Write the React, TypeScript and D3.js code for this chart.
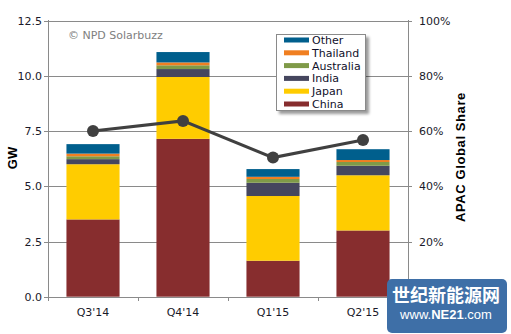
import React from "react";
import * as d3 from "d3";

const categories = ["Q3'14", "Q4'14", "Q1'15", "Q2'15"];
const seriesNames = ["China", "Japan", "India", "Australia", "Thailand", "Other"];
const china = [3.5, 7.15, 1.63, 3.0];
const japan = [2.5, 2.8, 2.93, 2.5];
const india = [0.23, 0.36, 0.6, 0.43];
const australia = [0.13, 0.17, 0.17, 0.17];
const thailand = [0.12, 0.13, 0.1, 0.09];
const other = [0.43, 0.47, 0.35, 0.49];
const apacShare = [60, 63.7, 50.4, 56.8];
const leftTicks = [0, 2.5, 5, 7.5, 10, 12.5];
const rightTicks = [20, 40, 60, 80, 100];
const colors = ["#872D2E", "#FFCC00", "#45465E", "#7F9A48", "#F07F21", "#005F8D"];

const W = 511;
const H = 334;
const FONT = "'DejaVu Sans', Verdana, sans-serif";

export default function App() {
  const x = d3.scaleBand<string>().domain(categories).range([48, 408]).paddingInner(0.41).paddingOuter(0.205);
  const y = d3.scaleLinear().domain([0, 12.5]).range([296.7, 20.7]);
  const y2 = d3.scaleLinear().domain([0, 100]).range([296.7, 20.7]);

  const rows = categories.map((c, i) => ({
    cat: c,
    China: china[i],
    Japan: japan[i],
    India: india[i],
    Australia: australia[i],
    Thailand: thailand[i],
    Other: other[i],
  }));
  const stacked = d3.stack<any>().keys(seriesNames)(rows);

  const line = d3
    .line<number>()
    .x((_, i) => (x(categories[i]) as number) + x.bandwidth() / 2)
    .y((d) => y2(d));

  const legendItems = [...seriesNames].reverse();
  const legendColors = [...colors].reverse();

  return (
    <svg width={W} height={H} style={{ position: "absolute", left: 0, top: 0, background: "#fff" }}>
      <defs>
        <filter id="shadow" x="-20%" y="-20%" width="150%" height="150%">
          <feGaussianBlur in="SourceAlpha" stdDeviation="1.5" />
          <feOffset dx="3" dy="3" result="ob" />
          <feComponentTransfer>
            <feFuncA type="linear" slope="0.4" />
          </feComponentTransfer>
          <feMerge>
            <feMergeNode />
            <feMergeNode in="SourceGraphic" />
          </feMerge>
        </filter>
      </defs>
      <rect width={W} height={H} fill="#fff" />
      {/* gridlines */}
      {leftTicks.map((t) => (
        <line key={"g" + t} x1={44} x2={412} y1={Math.round(y(t)) + 0.5} y2={Math.round(y(t)) + 0.5} stroke="#8a8a8a" strokeWidth={1} />
      ))}
      {/* axes */}
      <line x1={48.5} x2={48.5} y1={20} y2={297} stroke="#8a8a8a" />
      <line x1={408.5} x2={408.5} y1={20} y2={297} stroke="#8a8a8a" />
      {[48, 138, 228, 318, 408].map((tx) => (
        <line key={"xt" + tx} x1={tx + 0.5} x2={tx + 0.5} y1={297} y2={301} stroke="#8a8a8a" />
      ))}
      {/* left tick labels */}
      {leftTicks.map((t) => (
        <text key={"l" + t} x={42} y={y(t) + 4} textAnchor="end" fontFamily={FONT} fontSize={11} fill="#1a1a2a">
          {t.toFixed(1)}
        </text>
      ))}
      {rightTicks.map((t) => (
        <text key={"r" + t} x={419} y={y2(t) + 4} fontFamily={FONT} fontSize={11} fill="#1a1a2a">
          {t + "%"}
        </text>
      ))}
      {/* x labels */}
      {categories.map((c) => (
        <text key={"x" + c} x={(x(c) as number) + x.bandwidth() / 2} y={316} textAnchor="middle" fontFamily={FONT} fontSize={11} fill="#1a1a2a">
          {c}
        </text>
      ))}
      {/* bars */}
      {stacked.map((s, si) => (
        <g key={s.key} fill={colors[si]}>
          {s.map((d, i) => (
            <rect key={i} x={x(categories[i])} width={x.bandwidth()} y={y(d[1])} height={y(d[0]) - y(d[1])} />
          ))}
        </g>
      ))}
      {/* share line */}
      <path d={line(apacShare) as string} fill="none" stroke="#404040" strokeWidth={3} />
      {apacShare.map((v, i) => (
        <circle key={"c" + i} cx={(x(categories[i]) as number) + x.bandwidth() / 2} cy={y2(v)} r={6} fill="#404040" />
      ))}
      {/* copyright */}
      <text x={68} y={39} fontFamily={FONT} fontSize={11} fill="#808080">
        © NPD Solarbuzz
      </text>
      {/* legend */}
      <g>
        <rect x={276.5} y={34.5} width={89} height={76} fill="#fff" stroke="#8a8a8a" filter="url(#shadow)" />
        {legendItems.map((n, i) => (
          <g key={n}>
            <rect x={284} y={37.5 + i * 12.8} width={25} height={5} fill={legendColors[i]} />
            <text x={312} y={44 + i * 12.8} fontFamily={FONT} fontSize={11} fill="#10102a">
              {n}
            </text>
          </g>
        ))}
      </g>
      {/* axis titles */}
      <text transform="translate(17,158) rotate(-90)" textAnchor="middle" fontFamily="'Liberation Sans', Arial, sans-serif" fontWeight="bold" fontSize={13} fill="#000">
        GW
      </text>
      <text transform="translate(465,157) rotate(-90)" textAnchor="middle" fontFamily="'Liberation Sans', Arial, sans-serif" fontWeight="bold" fontSize={13} letterSpacing={0.6} fill="#000">
        APAC Global Share
      </text>
      {/* site logo */}
      <g>
        <rect x={387} y={279} width={120} height={54} rx={5} fill="#3e6fa7" />
        <text x={446} y={302} textAnchor="middle" fontFamily="'Noto Sans CJK SC', sans-serif" fontWeight="bold" fontSize={18} fill="#fff">
          世纪新能源网
        </text>
        <text x={446} y={319} textAnchor="middle" fontFamily="'Liberation Sans', Arial, sans-serif" fontSize={13} fill="#fff">
          www.<tspan fontWeight="bold">NE21</tspan>.com
        </text>
      </g>
    </svg>
  );
}
